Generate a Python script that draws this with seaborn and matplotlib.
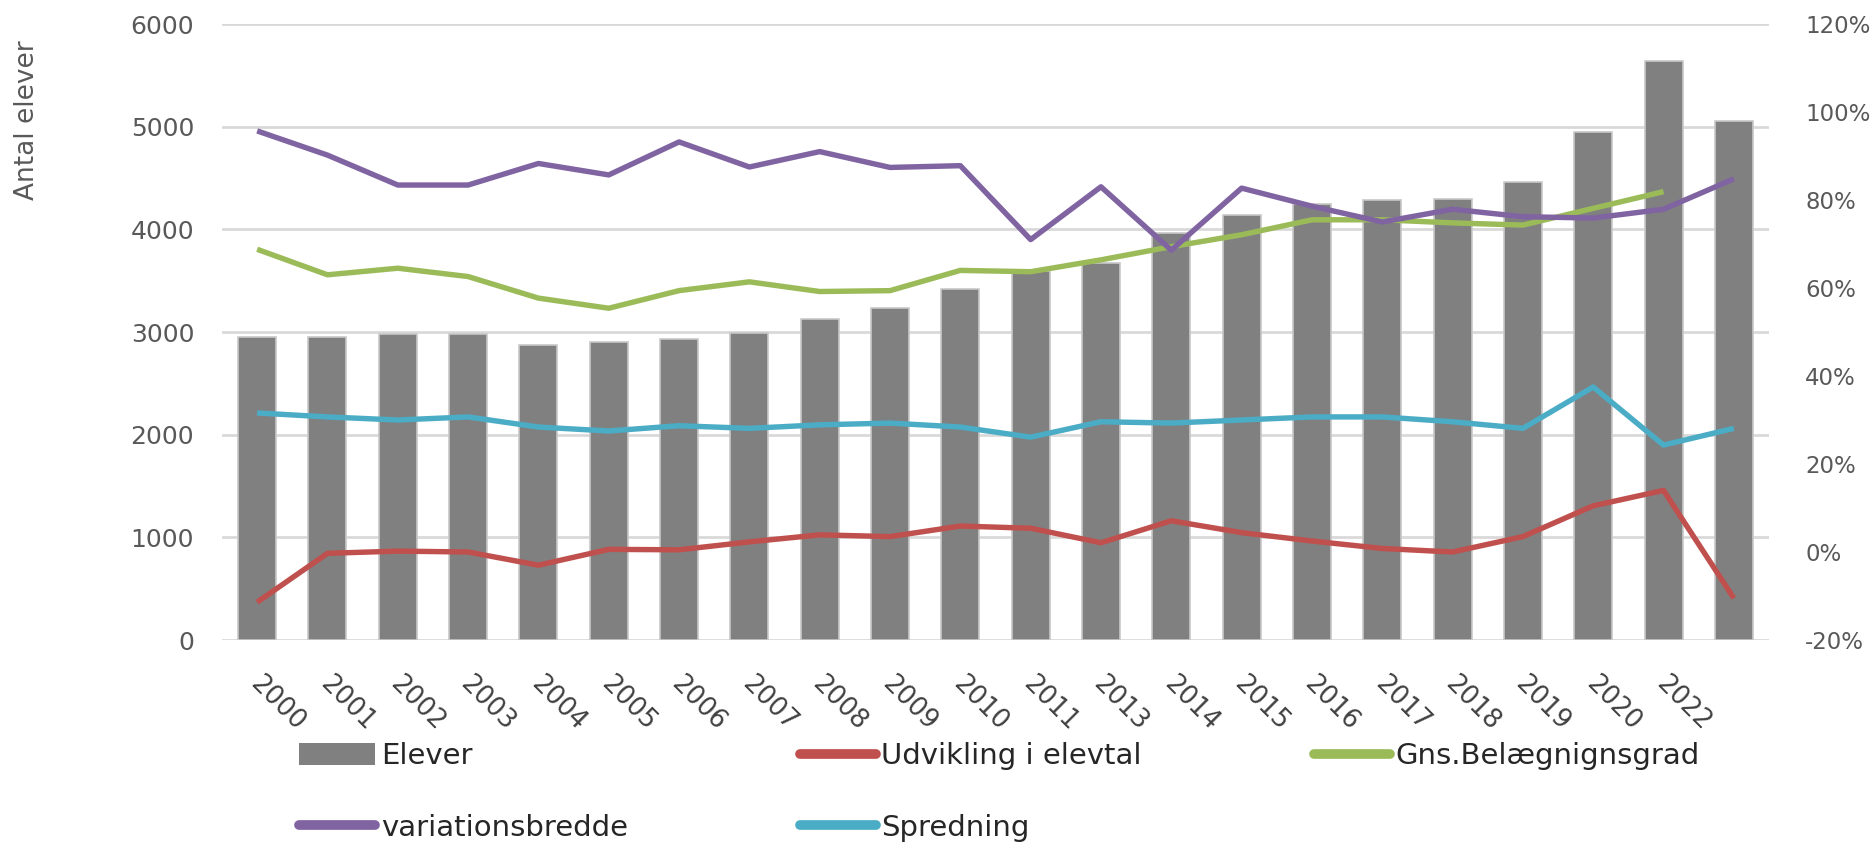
import numpy as np
import pandas as pd
import matplotlib
matplotlib.use("Agg")
import matplotlib.pyplot as plt
import seaborn as sns
from matplotlib.patches import Patch
from matplotlib.lines import Line2D
from matplotlib.ticker import PercentFormatter

# x categories (the last bar has no label in the source)
year_labels = ["2000", "2001", "2002", "2003", "2004", "2005", "2006", "2007",
               "2008", "2009", "2010", "2011", "2013", "2014", "2015", "2016",
               "2017", "2018", "2019", "2020", "2022", ""]

# Elever (left axis)
elever = [2955, 2955, 2980, 2980, 2870, 2905, 2935, 2995, 3125, 3230, 3420,
          3590, 3670, 3965, 4140, 4250, 4290, 4300, 4460, 4950, 5640, 5060]

# right axis series (fractions)
udvikling = [-0.114, -0.003, 0.002, 0.000, -0.030, 0.006, 0.005, 0.023, 0.039,
             0.035, 0.059, 0.054, 0.021, 0.071, 0.044, 0.025, 0.008, 0.000,
             0.035, 0.105, 0.140, -0.105]
belaegning = [0.688, 0.630, 0.645, 0.626, 0.577, 0.554, 0.594, 0.614, 0.592,
              0.594, 0.640, 0.637, 0.664, 0.694, 0.721, 0.755, 0.755, 0.748,
              0.743, 0.781, 0.819, np.nan]
variation = [0.957, 0.902, 0.834, 0.834, 0.883, 0.857, 0.932, 0.875, 0.910,
             0.874, 0.878, 0.710, 0.830, 0.686, 0.827, 0.786, 0.750, 0.779,
             0.762, 0.759, 0.779, 0.848]
spredning = [0.316, 0.307, 0.300, 0.307, 0.284, 0.275, 0.287, 0.281, 0.289,
             0.293, 0.284, 0.261, 0.296, 0.293, 0.300, 0.307, 0.307, 0.296,
             0.281, 0.375, 0.243, 0.281]

df = pd.DataFrame({
    "pos": np.arange(len(year_labels)),
    "Elever": elever,
    "Udvikling i elevtal": udvikling,
    "Gns.Belægnignsgrad": belaegning,
    "variationsbredde": variation,
    "Spredning": spredning,
})

sns.set_style("white")
plt.rcParams["font.family"] = ["DejaVu Sans"]
plt.rcParams["axes.unicode_minus"] = False

c_bar = "#808080"
c_red = "#C0504D"
c_green = "#9BBB59"
c_purple = "#8064A2"
c_cyan = "#4BACC6"
c_text = "#595959"

fig = plt.figure(figsize=(18.74, 8.47), dpi=100)
ax = fig.add_axes([222 / 1874, 1 - 640 / 847, 1547 / 1874, 616 / 847])

sns.barplot(data=df, x="pos", y="Elever", color=c_bar, saturation=1,
            width=0.54, edgecolor="#c8c8c8", linewidth=1.2, ax=ax)
ax.set_ylim(0, 6000)
ax.set_yticks(range(0, 6001, 1000))
ax.set_xlim(-0.5, len(year_labels) - 0.5)
ax.grid(axis="y", color="#d9d9d9", linewidth=2)
ax.set_axisbelow(True)
for s in ax.spines.values():
    s.set_visible(False)
ax.set_xlabel("")
ax.set_ylabel("")
ax.set_xticks(df["pos"] + 0.08)
ax.set_xticklabels(year_labels, rotation=-45, ha="left", va="top",
                   rotation_mode="anchor")
ax.tick_params(axis="x", length=0, pad=22, labelsize=18.5, labelcolor="#404040")
ax.tick_params(axis="y", length=0, pad=20, labelsize=18, labelcolor=c_text)

ax2 = ax.twinx()
lw = 3.9
for col, c in [("Udvikling i elevtal", c_red), ("Gns.Belægnignsgrad", c_green),
               ("variationsbredde", c_purple), ("Spredning", c_cyan)]:
    ax2.plot(df["pos"], df[col], color=c, lw=lw, solid_joinstyle="round",
             solid_capstyle="butt")
ax2.set_ylim(-0.2, 1.2)
ax2.set_yticks(np.arange(-0.2, 1.21, 0.2))
ax2.yaxis.set_major_formatter(PercentFormatter(1.0, decimals=0))
ax2.tick_params(axis="y", length=0, pad=26, labelsize=16.5, labelcolor=c_text)
for s in ax2.spines.values():
    s.set_visible(False)
ax2.grid(False)

fig.text(27 / 1874, 1 - 120 / 847, "Antal elever", rotation=90,
         ha="center", va="center", fontsize=19, color=c_text)

handles = [
    Patch(facecolor=c_bar, edgecolor="none", label="Elever"),
    Line2D([], [], color=c_purple, lw=7, label="variationsbredde"),
    Line2D([], [], color=c_red, lw=7, label="Udvikling i elevtal"),
    Line2D([], [], color=c_cyan, lw=7, label="Spredning"),
    Line2D([], [], color=c_green, lw=7, label="Gns.Belægnignsgrad"),
]
fig.legend(handles=handles, ncol=3, loc="upper left",
           bbox_to_anchor=(299 / 1874, 1 - 742 / 847),
           bbox_transform=fig.transFigure, frameon=False, fontsize=21,
           borderpad=0, borderaxespad=0, handlelength=2.6, handleheight=0.75,
           handletextpad=0.2, columnspacing=5.9, labelspacing=1.5)

fig.savefig("out.png", dpi=100)
